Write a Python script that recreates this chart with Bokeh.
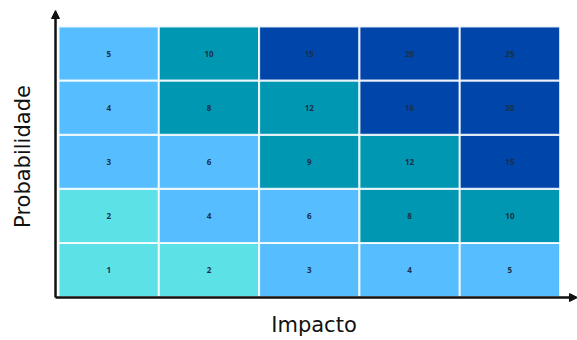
from bokeh.plotting import figure
from bokeh.models import ColumnDataSource, Arrow, NormalHead
from bokeh.core.properties import value
from bokeh.embed import file_html
from bokeh.resources import INLINE

# Risk matrix: impact (columns) x probability (rows)
impacto = [1, 2, 3, 4, 5]
probabilidade = [1, 2, 3, 4, 5]
scores = [
    [1, 2, 3, 4, 5],
    [2, 4, 6, 8, 10],
    [3, 6, 9, 12, 15],
    [4, 8, 12, 16, 20],
    [5, 10, 15, 20, 25],
]

# Score band limits and their colours
band_limits = [2, 6, 12, 25]
band_colors = ["#5CE1E6", "#56BDFE", "#0097B2", "#0046AA"]


def band_color(score):
    for limit, color in zip(band_limits, band_colors):
        if score <= limit:
            return color
    return band_colors[-1]


xs, ys, vals, cols = [], [], [], []
for r, prob in enumerate(probabilidade):
    for c, imp in enumerate(impacto):
        s = scores[r][c]
        xs.append(imp - 0.5)
        ys.append(prob - 0.5)
        vals.append(str(s))
        cols.append(band_color(s))

source = ColumnDataSource(dict(x=xs, y=ys, label=vals, color=cols))

x_start, x_end = -0.08, 5.174
y_start, y_end = -0.102, 5.296
# where the two axis arrows sit
x_axis_pos, y_axis_pos = -0.03, -0.01

p = figure(
    width=577, height=340,
    x_range=(x_start, x_end), y_range=(y_start, y_end),
    output_backend="svg", toolbar_location=None,
    min_border_left=50, min_border_right=0,
    min_border_top=10, min_border_bottom=38,
)
p.outline_line_color = None
p.grid.visible = False
p.background_fill_color = "white"
p.border_fill_color = "white"

p.rect(x="x", y="y", width=1, height=1, source=source,
       fill_color="color", line_color="white", line_alpha=0.85, line_width=2)

p.text(x="x", y="y", text="label", source=source,
       text_align="center", text_baseline="middle",
       text_font=value("Open Sans"), text_font_style="bold",
       text_font_size="8px", text_color="#1B2F45")

for ax in (p.xaxis[0], p.yaxis[0]):
    ax.ticker = []
    ax.axis_line_color = None
    ax.major_tick_line_color = None
    ax.minor_tick_line_color = None
    ax.axis_label_text_font = "DejaVu Sans"
    ax.axis_label_text_font_style = "normal"
    ax.axis_label_text_font_size = "21px"
    ax.axis_label_text_color = "#111111"

p.xaxis.axis_label = "Impacto"
p.yaxis.axis_label = "Probabilidade"
p.xaxis.axis_label_standoff = 10
p.yaxis.axis_label_standoff = 16

# Axis lines with arrow heads
head = dict(size=8, fill_color="#111111", line_color="#111111")
p.add_layout(Arrow(x_start=x_axis_pos, y_start=y_axis_pos, x_end=x_axis_pos, y_end=y_end,
                   line_width=2.5, line_color="#111111", end=NormalHead(**head)))
p.add_layout(Arrow(x_start=x_axis_pos, y_start=y_axis_pos, x_end=x_end, y_end=y_axis_pos,
                   line_width=2.5, line_color="#111111", end=NormalHead(**head)))

open("out.html", "w").write(file_html(p, INLINE))
